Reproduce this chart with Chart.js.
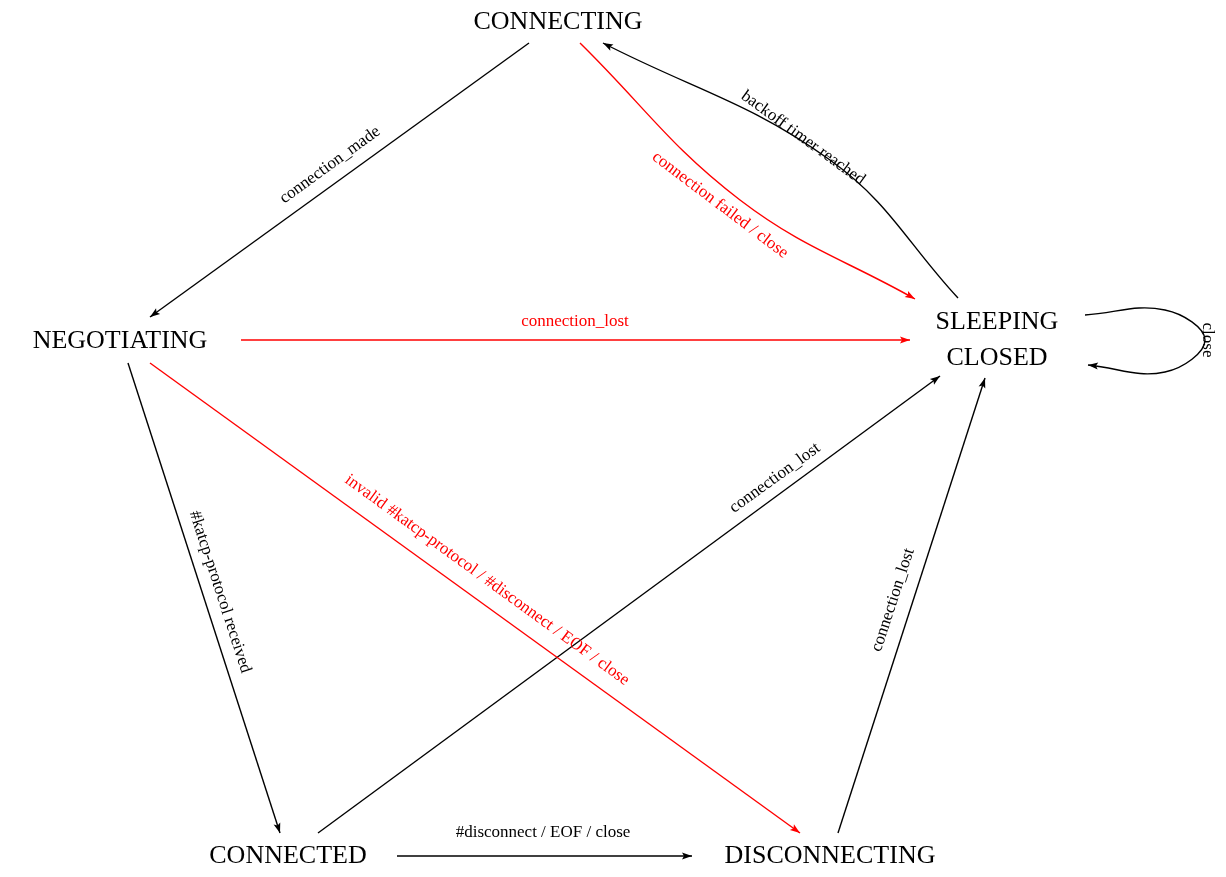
<!DOCTYPE html>
<html><head><meta charset="utf-8">
<script src="https://cdn.jsdelivr.net/npm/chart.js@4/dist/chart.umd.min.js"></script>
<style>html,body{margin:0;padding:0;background:#fff}#w{width:1226px;height:877px}</style>
</head><body><div id="w"><canvas id="c"></canvas></div>
<script>
// States (text positions in diagram coordinates)
const states = [
  {text:"CONNECTING", x:558, y:22},
  {text:"NEGOTIATING", x:120, y:341},
  {text:"SLEEPING", x:997, y:322},
  {text:"CLOSED", x:997, y:358},
  {text:"CONNECTED", x:288, y:856},
  {text:"DISCONNECTING", x:830, y:856}
];
// Transitions: path points, colour, label, label position, label angle
const edgePaths = [
  [{x:529,y:43},{x:150,y:317}],
  [{x:580,y:43},{x:740,y:200},{x:915,y:299}],
  [{x:958,y:298},{x:830,y:160},{x:603,y:43}],
  [{x:241,y:340},{x:910,y:340}],
  [{x:1085,y:315},{x:1165,y:310},{x:1205,y:340},{x:1165,y:372},{x:1088,y:365}],
  [{x:128,y:363},{x:280,y:833}],
  [{x:150,y:363},{x:800,y:833}],
  [{x:318,y:833},{x:940,y:376}],
  [{x:838,y:833},{x:985,y:378}],
  [{x:397,y:856},{x:692,y:856}]
];
const edgeColors = ["#000","#f00","#000","#f00","#000","#000","#f00","#000","#000","#000"];
const edgeLabels = ["connection_made","connection failed / close","backoff timer reached","connection_lost","close",
  "#katcp-protocol received","invalid #katcp-protocol / #disconnect / EOF / close","connection_lost","connection_lost","#disconnect / EOF / close"];
const labelPos = [[330,165],[720,205],[803,138],[575,322],[1207,340],[220,592],[487,580],[775,478],[893,600],[543,833]];
const labelAngle = [-36,37,36,0,90,72,36,-36,-72,0];

const textPlugin = {
  id:'txt',
  afterDatasetsDraw(chart){
    const ctx=chart.ctx, xs=chart.scales.x, ys=chart.scales.y;
    // arrowheads
    chart.data.datasets.forEach((ds,i)=>{
      const pts=chart.getDatasetMeta(i).data; const n=pts.length;
      const p=pts[n-1], q=pts[n-2];
      let fx=(p.cp1x!==undefined&&n>2)?p.cp1x:q.x, fy=(p.cp1y!==undefined&&n>2)?p.cp1y:q.y;
      const a=Math.atan2(p.y-fy,p.x-fx);
      ctx.save();ctx.fillStyle=edgeColors[i];ctx.translate(p.x,p.y);ctx.rotate(a);
      ctx.beginPath();ctx.moveTo(0,0);ctx.lineTo(-10,-3.5);ctx.lineTo(-8,0);ctx.lineTo(-10,3.5);ctx.closePath();ctx.fill();ctx.restore();
    });
    ctx.save();ctx.textAlign='center';ctx.textBaseline='middle';
    ctx.font='26px "Liberation Serif", "DejaVu Serif", serif';ctx.fillStyle='#000';
    states.forEach(s=>ctx.fillText(s.text,xs.getPixelForValue(s.x),ys.getPixelForValue(s.y)));
    ctx.font='17px "Liberation Serif", "DejaVu Serif", serif';
    edgeLabels.forEach((t,i)=>{
      ctx.save();ctx.translate(xs.getPixelForValue(labelPos[i][0]),ys.getPixelForValue(labelPos[i][1]));
      ctx.rotate(labelAngle[i]*Math.PI/180);ctx.fillStyle=edgeColors[i];ctx.fillText(t,0,0);ctx.restore();
    });
    ctx.restore();
  }
};
new Chart(document.getElementById('c'),{
  type:'scatter',
  data:{datasets:edgePaths.map((p,i)=>({data:p,showLine:true,borderColor:edgeColors[i],borderWidth:1.4,
    pointRadius:0,tension:p.length>2?0.4:0,fill:false}))},
  options:{responsive:true,maintainAspectRatio:false,animation:false,
    layout:{padding:0},
    plugins:{legend:{display:false},tooltip:{enabled:false}},
    scales:{x:{type:'linear',min:0,max:1226,display:false},y:{type:'linear',min:0,max:877,reverse:true,display:false}}},
  plugins:[textPlugin]
});
</script></body></html>
